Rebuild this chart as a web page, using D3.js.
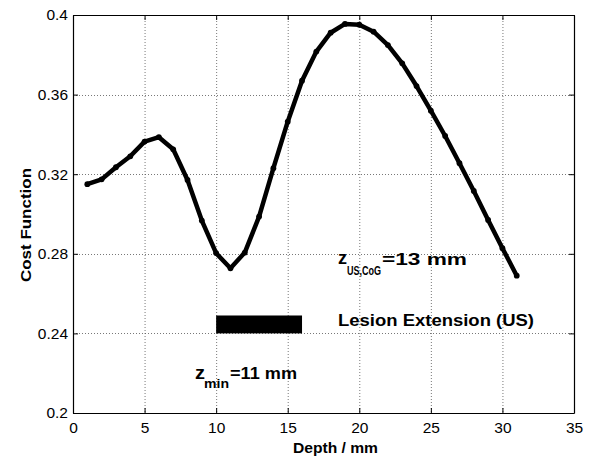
<!DOCTYPE html>
<html>
<head>
<meta charset="utf-8">
<script src="https://cdn.jsdelivr.net/npm/d3@7"></script>
<style>
  html, body { margin: 0; padding: 0; background: #fff; }
  svg { display: block; font-family: Arial, "Liberation Sans", Helvetica, sans-serif; }
</style>
</head>
<body>
<svg id="chart" width="590" height="459"></svg>
<script>
// ---- data ----
const depth = [1,2,3,4,5,6,7,8,9,10,11,12,13,14,15,16,17,18,19,20,21,22,23,24,25,26,27,28,29,30,31];
const cost = [0.315,0.3174,0.3235,0.329,0.3364,0.3386,0.3325,0.3171,0.2967,0.2803,0.2727,
              0.2806,0.2987,0.323,0.3464,0.367,0.3816,0.3911,0.3955,0.3951,0.3916,0.3849,
              0.3757,0.3643,0.3519,0.3392,0.3255,0.3116,0.297,0.2828,0.269];
const xTicks = [0,5,10,15,20,25,30,35];
const yTicks = [0.2,0.24,0.28,0.32,0.36,0.4];
const yTickLabels = ["0.2","0.24","0.28","0.32","0.36","0.4"];
const lesionStart = 10, lesionEnd = 16;
const lesionLow = 0.24, lesionHigh = 0.249;
const xLabel = "Depth / mm";
const yLabel = "Cost Function";
const lesionText = "Lesion Extension (US)";

// ---- layout ----
const L = 73, R = 574, T = 15, B = 413;
const svg = d3.select("#chart");
const x = d3.scaleLinear().domain([0,35]).range([L,R]);
const y = d3.scaleLinear().domain([0.2,0.4]).range([B,T]);

// grid
const grid = svg.append("g").attr("stroke","#555").attr("stroke-width",0.8).attr("stroke-dasharray","1,2");
grid.selectAll("line.gx").data(xTicks.filter(d=>d>0 && d<35)).join("line")
  .attr("x1",d=>x(d)+0.5).attr("x2",d=>x(d)+0.5).attr("y1",T).attr("y2",B);
grid.selectAll("line.gy").data(yTicks.filter(d=>d>0.2 && d<0.4)).join("line")
  .attr("y1",d=>Math.round(y(d))+0.5).attr("y2",d=>Math.round(y(d))+0.5).attr("x1",L).attr("x2",R);

// axes (inward ticks, box)
const fmt = d => yTickLabels[yTicks.indexOf(d)];
const axB = svg.append("g").attr("transform",`translate(0,${B})`)
  .call(d3.axisBottom(x).tickValues(xTicks).tickSize(-5).tickPadding(9).tickSizeOuter(0));
const axT = svg.append("g").attr("transform",`translate(0,${T})`)
  .call(d3.axisTop(x).tickValues(xTicks).tickSize(-5).tickFormat("").tickSizeOuter(0));
const axLft = svg.append("g").attr("transform",`translate(${L},0)`)
  .call(d3.axisLeft(y).tickValues(yTicks).tickSize(-5).tickPadding(5).tickFormat(fmt).tickSizeOuter(0));
const axRt = svg.append("g").attr("transform",`translate(${R},0)`)
  .call(d3.axisRight(y).tickValues(yTicks).tickSize(-5).tickFormat("").tickSizeOuter(0));
[axB,axT,axLft,axRt].forEach(a=>{
  a.select(".domain").attr("stroke","#000").attr("stroke-width",1.2);
  a.selectAll(".tick line").attr("stroke","#000");
  a.selectAll(".tick text").attr("fill","#000").attr("font-size",15.5).attr("font-family","Arial, 'Liberation Sans', sans-serif");
});

// lesion bar
svg.append("rect")
  .attr("x",x(lesionStart)).attr("width",x(lesionEnd)-x(lesionStart))
  .attr("y",y(lesionHigh)).attr("height",y(lesionLow)-y(lesionHigh))
  .attr("fill","#000");

// curve
const pts = depth.map((d,i)=>[d,cost[i]]);
svg.append("path").datum(pts)
  .attr("fill","none").attr("stroke","#000").attr("stroke-width",4.5).attr("stroke-linejoin","round")
  .attr("d", d3.line().x(d=>x(d[0])).y(d=>y(d[1])));
svg.append("g").selectAll("circle").data(pts).join("circle")
  .attr("cx",d=>x(d[0])).attr("cy",d=>y(d[1])).attr("r",2.9).attr("fill","#000");

// text helper
function txt(s, px, py, size, len){
  const t = svg.append("text").attr("x",px).attr("y",py).attr("font-size",size)
    .attr("font-weight","bold").attr("fill","#000").text(s);
  if (len) t.attr("textLength",len).attr("lengthAdjust","spacingAndGlyphs");
  return t;
}
// annotations
txt("z", 338, 264, 19, 9);
txt("US,CoG", 347, 275, 12, 34);
txt("=13 mm", 382, 265, 16, 85);
txt(lesionText, 338, 326, 16, 196);
txt("z", 195, 379, 19, 10);
txt("min", 204, 388, 12, 25);
txt("=11 mm", 230, 379, 16, 67);

// axis labels
txt(xLabel, 293, 453, 14, 85);
svg.append("text").attr("transform","translate(31,282) rotate(-90)")
  .attr("font-size",14).attr("font-weight","bold").attr("fill","#000")
  .attr("textLength",114).attr("lengthAdjust","spacingAndGlyphs").text(yLabel);
</script>
</body>
</html>
